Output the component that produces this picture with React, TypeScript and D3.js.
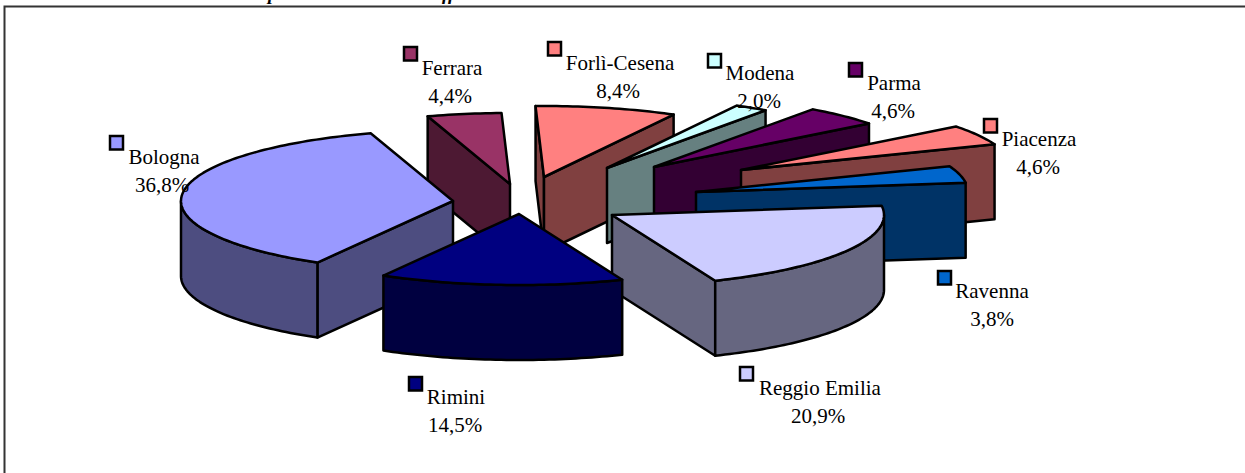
import React from 'react';
import * as d3 from 'd3';

const width = 1245;
const height = 473;

// back-to-front order is set further down, this is the order round the pie
const provinces = ['Bologna', 'Ferrara', 'Forlì-Cesena', 'Modena', 'Parma', 'Piacenza', 'Ravenna', 'Reggio Emilia', 'Rimini'];
const shares = [36.8, 4.4, 8.4, 2.0, 4.6, 4.6, 3.8, 20.9, 14.5];
const shareLabels = ['36,8%', '4,4%', '8,4%', '2,0%', '4,6%', '4,6%', '3,8%', '20,9%', '14,5%'];
const topColors = ['#9999ff', '#993366', '#ff8080', '#ccffff', '#660066', '#ff8080', '#0066cc', '#ccccff', '#000080'];
const sideColors = ['#4d4d80', '#4d1933', '#804040', '#668080', '#330033', '#804040', '#003366', '#666680', '#000040'];

// where each exploded slice has its tip
const tips: [number, number][] = [[453, 201], [510, 184], [544, 177], [607, 168], [654, 167], [741, 170], [696, 192], [612, 215], [519, 214]];
// swatch corner [x, y] and label centre / first baseline
const swatches: [number, number][] = [[110, 136], [404, 47], [548, 42], [708, 54], [849, 63], [984, 119], [938, 271], [740, 367], [409, 377]];
const labelPos: [number, number, number][] = [[164, 164, 162], [452, 75, 450], [620, 70, 618], [760, 80, 759], [894, 90, 893], [1039, 146, 1038], [992, 298, 992], [820, 395, 818], [456, 404, 455]];

const drawOrder = [1, 2, 3, 4, 5, 6, 7, 0, 8];

const rx = 272;
const ry = 71;
const depth = 75;
const startDeg = 209.9;
const TAU = Math.PI * 2;

const pie = d3.pie<number>()
  .sort(null)
  .startAngle((startDeg * Math.PI) / 180)
  .endAngle((startDeg * Math.PI) / 180 + TAU);
const arcs = pie(shares);

const toX = d3.scaleLinear().domain([-1, 1]).range([-rx, rx]);
const toY = d3.scaleLinear().domain([-1, 1]).range([-ry, ry]);
const line = d3.line();

function rimPoint(tip: [number, number], a: number, drop = 0): [number, number] {
  return [tip[0] + toX(Math.sin(a)), tip[1] - toY(Math.cos(a)) + drop];
}

function rim(tip: [number, number], a0: number, a1: number, drop = 0) {
  const n = Math.max(2, Math.ceil((a1 - a0) / 0.02));
  return d3.range(n + 1).map((i) => rimPoint(tip, a0 + ((a1 - a0) * i) / n, drop));
}

function Slice({ i }: { i: number }) {
  const tip = tips[i];
  // the pie starts at 210 degrees, so later slices run past a full turn
  const wrap = arcs[i].startAngle >= TAU ? TAU : 0;
  const a0 = arcs[i].startAngle - wrap;
  const a1 = arcs[i].endAngle - wrap;
  const fill = topColors[i];
  const side = sideColors[i];
  const faces: [number, number][][] = [];

  // flat cut faces, only the ones turned towards the viewer
  if (Math.sin(a0) < 0) {
    const p = rimPoint(tip, a0);
    faces.push([p, tip, [tip[0], tip[1] + depth], [p[0], p[1] + depth]]);
  }
  if (Math.sin(a1) > 0) {
    const p = rimPoint(tip, a1);
    faces.push([p, tip, [tip[0], tip[1] + depth], [p[0], p[1] + depth]]);
  }

  // outer curved wall: only the front half of the ellipse shows
  const w0 = Math.max(a0, Math.PI / 2);
  const w1 = Math.min(a1, (Math.PI * 3) / 2);
  if (w1 > w0) {
    faces.push([...rim(tip, w0, w1), ...rim(tip, w0, w1, depth).reverse()]);
  }

  return (
    <g stroke="#000" strokeWidth={2.5} strokeLinejoin="round">
      {faces.map((f, k) => (
        <path key={k} d={line(f) + 'Z'} fill={side} />
      ))}
      <path d={line([tip, ...rim(tip, a0, a1)]) + 'Z'} fill={fill} />
    </g>
  );
}

export default function App() {
  return (
    <svg
      width={width}
      height={height}
      viewBox={`0 0 ${width} ${height}`}
      style={{ position: 'absolute', left: 0, top: 0, display: 'block', background: '#fff' }}
      fontFamily="'Liberation Serif', serif"
    >
      {/* heading is cut off by the crop, only the descenders are left */}
      <g fontWeight="bold" fontStyle="italic" fontSize={19} fill="#000">
        <text x={268} y={0}>p</text>
        <text x={442} y={0}>ff</text>
      </g>
      <path d={`M4.5,${height}V6.5H${width}`} fill="none" stroke="#333" strokeWidth={2} />

      {drawOrder.map((i) => (
        <Slice key={provinces[i]} i={i} />
      ))}

      {provinces.map((name, i) => (
        <g key={name}>
          <rect x={swatches[i][0]} y={swatches[i][1]} width={13} height={13.5} fill={topColors[i]} stroke="#000" strokeWidth={2.5} />
          <text x={labelPos[i][0]} y={labelPos[i][1]} textAnchor="middle" fontSize={21} fill="#000">{name}</text>
          <text x={labelPos[i][2]} y={labelPos[i][1] + 28} textAnchor="middle" fontSize={21} fill="#000">{shareLabels[i]}</text>
        </g>
      ))}
    </svg>
  );
}
